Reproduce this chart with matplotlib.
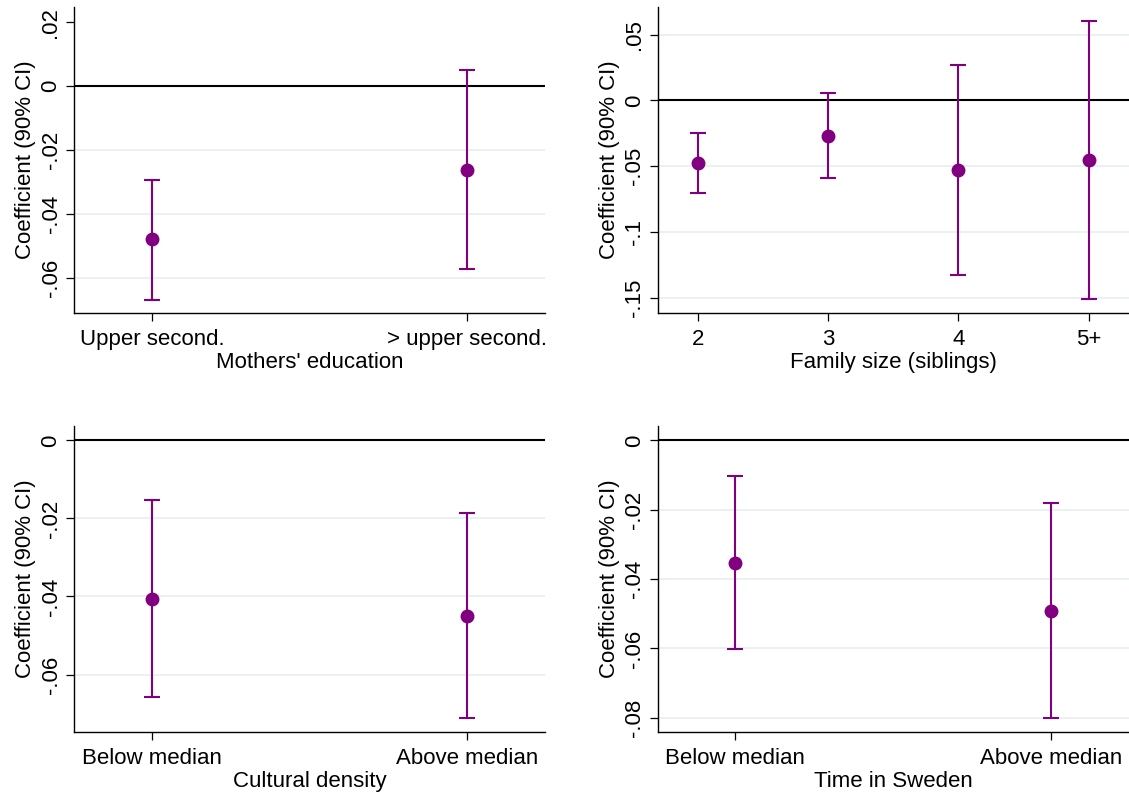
import matplotlib
matplotlib.use("Agg")
import matplotlib.pyplot as plt

plt.rcParams['font.family'] = ['Liberation Sans', 'DejaVu Sans']

# Panel 1: Mothers' education
p1_labels = ["Upper second.", "> upper second."]
p1_coef = [-0.0479, -0.0263]
p1_lo = [-0.0667, -0.0573]
p1_hi = [-0.0292, 0.0050]
p1_yticks = [0.02, 0.0, -0.02, -0.04, -0.06]
p1_yticklabels = [".02", "0", "-.02", "-.04", "-.06"]

# Panel 2: Family size
p2_labels = ["2", "3", "4", "5+"]
p2_coef = [-0.0477, -0.0269, -0.0528, -0.0457]
p2_lo = [-0.0706, -0.0591, -0.1330, -0.1513]
p2_hi = [-0.0249, 0.0053, 0.0272, 0.0602]
p2_yticks = [0.05, 0.0, -0.05, -0.1, -0.15]
p2_yticklabels = [".05", "0", "-.05", "-.1", "-.15"]

# Panel 3: Cultural density
p3_labels = ["Below median", "Above median"]
p3_coef = [-0.0406, -0.0450]
p3_lo = [-0.0658, -0.0711]
p3_hi = [-0.0153, -0.0187]
p3_yticks = [0.0, -0.02, -0.04, -0.06]
p3_yticklabels = ["0", "-.02", "-.04", "-.06"]

# Panel 4: Time in Sweden
p4_labels = ["Below median", "Above median"]
p4_coef = [-0.0353, -0.0491]
p4_lo = [-0.0603, -0.0800]
p4_hi = [-0.0102, -0.0182]
p4_yticks = [0.0, -0.02, -0.04, -0.06, -0.08]
p4_yticklabels = ["0", "-.02", "-.04", "-.06", "-.08"]

xtitles = ["Mothers' education", "Family size (siblings)", "Cultural density", "Time in Sweden"]

W, H = 1129, 796
fig = plt.figure(figsize=(W / 100, H / 100), dpi=100)

def rect(l, r, t, b):
    return [l / W, 1 - b / H, (r - l) / W, (b - t) / H]

axes = [
    fig.add_axes(rect(74, 545, 7, 313.3)),
    fig.add_axes(rect(657.5, 1129, 7, 313.3)),
    fig.add_axes(rect(74, 545, 426, 732.3)),
    fig.add_axes(rect(657.5, 1129, 426, 732.3)),
]

# (labels, coef, lo, hi, yticks, yticklabels, x margin, ylim, ticks without grid)
panels = [
    (p1_labels, p1_coef, p1_lo, p1_hi, p1_yticks, p1_yticklabels, 0.247, (-0.0710, 0.0248), [0.02]),
    (p2_labels, p2_coef, p2_lo, p2_hi, p2_yticks, p2_yticklabels, 0.31, (-0.162, 0.0711), []),
    (p3_labels, p3_coef, p3_lo, p3_hi, p3_yticks, p3_yticklabels, 0.247, (-0.0748, 0.00367), []),
    (p4_labels, p4_coef, p4_lo, p4_hi, p4_yticks, p4_yticklabels, 0.246, (-0.0842, 0.00413), []),
]

purple = '#800080'
grid_c = '#e9f0f2'

for ax, (labels, coef, lo, hi, yt, ytl, mx, yl, nogrid), xt in zip(axes, panels, xtitles):
    x = list(range(len(labels)))
    for v in yt:
        if v != 0 and v not in nogrid:
            ax.axhline(v, color=grid_c, lw=1.3, zorder=0)
    ax.axhline(0, color='black', lw=1.5, zorder=1)
    yerr = [[c - l for c, l in zip(coef, lo)], [h - c for c, h in zip(coef, hi)]]
    ax.errorbar(x, coef, yerr=yerr, fmt='none', ecolor=purple, elinewidth=1.5,
                capsize=5.5, capthick=1.5, zorder=2)
    ax.plot(x, coef, 'o', color=purple, markersize=9, zorder=3)
    ax.set_xlim(-mx, len(labels) - 1 + mx)
    ax.set_ylim(*yl)
    ax.set_xticks(x)
    ax.set_xticklabels(labels)
    ax.set_yticks(yt)
    ax.set_yticklabels(ytl, rotation=90, va='center')
    for s in ['top', 'right']:
        ax.spines[s].set_visible(False)
    for s in ['left', 'bottom']:
        ax.spines[s].set_linewidth(1.0)
    ax.tick_params(axis='both', length=6, width=0.9, labelsize=16)
    ax.tick_params(axis='x', pad=5)
    ax.tick_params(axis='y', pad=3)
    ax.set_xlabel(xt, fontsize=16, labelpad=2)
    ax.set_ylabel("Coefficient (90% CI)", fontsize=16, labelpad=3)
    ax.set_facecolor('white')

fig.savefig("out.png", dpi=100, facecolor='white')
